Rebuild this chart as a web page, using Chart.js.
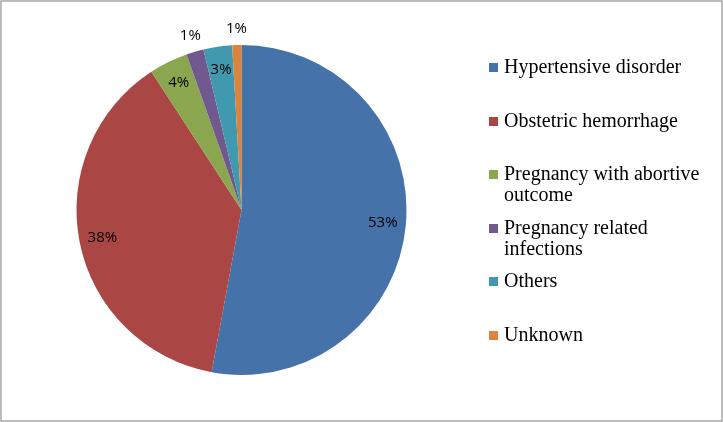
<!DOCTYPE html>
<html>
<head>
<meta charset="utf-8">
<script src="https://cdn.jsdelivr.net/npm/chart.js@4.4.0/dist/chart.umd.min.js"></script>
<style>
  body { margin: 0; background: #fff; }
  #wrap { position: relative; width: 723px; height: 422px; }
  #legend { position: absolute; left: 489px; top: 56px; font-family: "Liberation Serif", "Times New Roman", serif; font-size: 20px; color: #000; }
  #legend .item { display: flex; align-items: flex-start; height: 53.5px; }
  #legend .box { width: 9px; height: 9px; margin-top: 7px; margin-right: 6px; flex: none; }
  #legend .txt { line-height: 21px; width: 220px; }
</style>
</head>
<body>
<div id="wrap">
  <canvas id="myChart" width="723" height="422"></canvas>
  <div id="legend"></div>
</div>
<script>
// categories and share of maternal deaths (%)
var causes = ["Hypertensive disorder", "Obstetric hemorrhage", "Pregnancy with abortive outcome",
  "Pregnancy related infections", "Others", "Unknown"];
var shares = [52.9, 37.9, 3.8, 1.7, 2.8, 0.9];
// data labels as printed on the chart
var pctText = ["53%", "38%", "4%", "1%", "3%", "1%"];
var colors = ['#4672AA', '#AA4744', '#8AA64F', '#71598F', '#4199B0', '#DB843D'];
// legend line breaks, as in the original
var legendText = ["Hypertensive disorder", "Obstetric hemorrhage", "Pregnancy with abortive<br>outcome",
  "Pregnancy related<br>infections", "Others", "Unknown"];

// percent labels: inside for big slices, outside for tiny ones
var pctLabels = {
  id: 'pctLabels',
  afterDatasetsDraw: function(chart) {
    var ctx = chart.ctx;
    var meta = chart.getDatasetMeta(0);
    var total = shares.reduce(function(a, b) { return a + b; }, 0);
    ctx.save();
    ctx.font = '15px "Open Sans", "Liberation Sans", sans-serif';
    ctx.fillStyle = '#000';
    ctx.textAlign = 'center';
    ctx.textBaseline = 'middle';
    meta.data.forEach(function(arc, i) {
      var p = arc.getProps(['x', 'y', 'startAngle', 'endAngle', 'outerRadius'], true);
      var mid = (p.startAngle + p.endAngle) / 2;
      var pct = shares[i] / total * 100;
      var r = pct < 2.5 ? p.outerRadius * 1.1 : p.outerRadius * 0.86;
      var x = p.x + Math.cos(mid) * r;
      var y = p.y + Math.sin(mid) * r;
      ctx.fillText(pctText[i], x, y);
    });
    ctx.restore();
  },
  afterDraw: function(chart) {
    var ctx = chart.ctx;
    ctx.save();
    ctx.strokeStyle = '#a6a6a6';
    ctx.lineWidth = 1.5;
    ctx.strokeRect(1, 1, 721, 420);
    ctx.restore();
  }
};

var ctx = document.getElementById("myChart");
var myPie = new Chart(ctx, {
  type: 'pie',
  data: {
    labels: causes,
    datasets: [{
      data: shares,
      backgroundColor: colors,
      borderWidth: 0
    }]
  },
  options: {
    responsive: false,
    animation: false,
    layout: { padding: { left: 76, right: 316, top: 45, bottom: 47 } },
    plugins: {
      legend: { display: false },
      tooltip: { enabled: false }
    }
  },
  plugins: [pctLabels]
});

var leg = document.getElementById('legend');
causes.forEach(function(c, i) {
  var d = document.createElement('div');
  d.className = 'item';
  d.innerHTML = '<span class="box" style="background:' + colors[i] + '"></span><span class="txt">' + legendText[i] + '</span>';
  leg.appendChild(d);
});
</script>
</body>
</html>
